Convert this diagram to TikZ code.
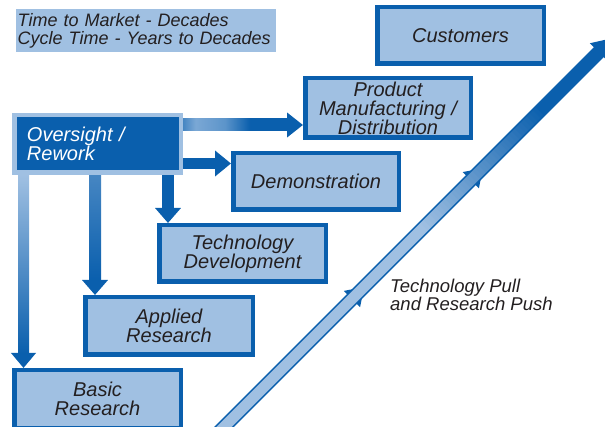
\documentclass[tikz,border=0pt]{standalone}
\usepackage{fontspec}
\setmainfont{Liberation Sans}
\usetikzlibrary{arrows.meta}
\definecolor{dblue}{HTML}{0A5FAD}
\definecolor{lblue}{HTML}{A0C0E2}
\definecolor{txt}{HTML}{231F20}
\colorlet{midb}{dblue!60!lblue}
\colorlet{litb}{dblue!25!lblue}
\colorlet{medb}{dblue!45!lblue}
\pgfdeclarehorizontalshading{shA}{100bp}{color(0bp)=(midb); color(25bp)=(midb); color(31bp)=(litb); color(45bp)=(medb); color(57bp)=(dblue); color(100bp)=(dblue)}
\newcommand\boxfont{\fontsize{20}{19}\selectfont\itshape}
\begin{document}
\begin{tikzpicture}[x=1pt,y=-1pt,
  box/.style={draw=dblue, fill=lblue, line width=4.5pt, inner sep=0pt, text=txt, align=center, font=\boxfont},
  obox/.style={draw=lblue, fill=dblue, line width=4.5pt, inner xsep=12.75pt, inner ysep=0pt,
      text width=141pt, align=left, minimum height=57.5pt, text=white, font=\boxfont},
  arr/.style={draw=dblue, -{Triangle[length=16pt,width=24pt]}},
  varr/.style={draw=dblue, -{Triangle[length=15pt,width=25pt]}}]
\useasboundingbox (0,0) rectangle (605,427);
\clip (0,0) rectangle (605,427);

% diagonal band
\begin{scope}[shift={(224,427)}, rotate=45]
  \foreach \sb in {181,349}
    \fill[dblue] (\sb,-11.5) -- (\sb+17,0) -- (\sb,11.5) -- cycle;
  \fill[lblue] (-30,-6.25) -- (531,-6.25) -- (531,6.25) -- (-30,6.25) -- cycle;
  \foreach \i in {0,...,39} {
    \pgfmathtruncatemacro\p{100*\i/39}
    \pgfmathsetmacro\sa{279+\i*4.3}
    \fill[dblue!\p!lblue] (\sa,-6.25) -- (\sa+4.8,-6.25) -- (\sa+4.8,6.25) -- (\sa,6.25) -- cycle;
  }
  \fill[dblue] (447,-6.25) -- (531,-6.25) -- (531,6.25) -- (447,6.25) -- cycle;
  \fill[dblue] (530,-12.7) -- (550,0) -- (530,12.7) -- cycle;
  \draw[dblue, line width=1.5pt] (-30,-6.25) -- (531,-6.25) (-30,6.25) -- (531,6.25);
\end{scope}

% nodes
\node[box, minimum width=166.5pt, minimum height=56.5pt] (cust) at (460.5,35.5) {Customers};
\node[box, minimum width=165.5pt, minimum height=59.5pt] (prod) at (388,108) {Product\\Manufacturing /\\Distribution};
\node[box, minimum width=165.5pt, minimum height=56.5pt] (demo) at (316,181.5) {Demonstration};
\node[box, minimum width=166.5pt, minimum height=56.5pt] (tech) at (242.5,253.5) {Technology\\Development};
\node[box, minimum width=167.5pt, minimum height=57.5pt] (appl) at (169,326) {Applied\\Research};
\node[box, minimum width=166.5pt, minimum height=57.5pt] (basic) at (97.5,399) {Basic\\Research};
\node[obox] (over) at (97.5,144) {Oversight /\\Rework};

% connectors
\coordinate (cA) at (0,125);
\coordinate (cB) at (0,163.5);
\coordinate (cC) at (168,0);
\coordinate (cD) at (95,0);
\coordinate (cE) at (23.5,0);
\draw[arr, line width=12pt] (over.east |- cA) -- (prod.west |- cA);
\draw[arr, line width=11pt, -{Triangle[length=16pt,width=25pt]}] (over.east |- cB) -- (demo.west |- cB);
\draw[varr, line width=12pt] (over.south -| cC) -- (tech.north -| cC);
\draw[varr, line width=12pt] (over.south -| cD) -- (appl.north -| cD);
\draw[varr, line width=11pt, -{Triangle[length=15pt,width=24pt]}] (over.south -| cE) -- (basic.north -| cE);
% gradients on shafts
\shade[shading=shA] (183,119) rectangle (287.5,131);
\shade[top color=midb, bottom color=dblue] (89,175) rectangle (101,280.5);
\shade[top color=lblue, bottom color=dblue] (18,175) rectangle (29,353.5);

% redraw boxes over arrow ends
\node[box, minimum width=165.5pt, minimum height=59.5pt] at (prod) {Product\\Manufacturing /\\Distribution};
\node[box, minimum width=165.5pt, minimum height=56.5pt] at (demo) {Demonstration};
\node[box, minimum width=166.5pt, minimum height=56.5pt] at (tech) {Technology\\Development};
\node[box, minimum width=167.5pt, minimum height=57.5pt] at (appl) {Applied\\Research};
\node[box, minimum width=166.5pt, minimum height=57.5pt] at (basic) {Basic\\Research};
\node[obox] at (over) {Oversight /\\Rework};

% labels
\node[fill=lblue, anchor=north west, inner xsep=1.5pt, inner ysep=0pt, text width=257pt,
      minimum height=43pt, align=left, text=txt, font=\fontsize{18}{18}\selectfont\itshape]
      (tl) at (16,9) {\mbox{Time to Market - Decades}\\\mbox{Cycle Time - Years to Decades}};
\node[anchor=north west, inner sep=0pt, align=left, text=txt, font=\fontsize{18.5}{17}\selectfont\itshape]
      (pull) at (390,278.5) {Technology Pull\\and Research Push};
\end{tikzpicture}
\end{document}
